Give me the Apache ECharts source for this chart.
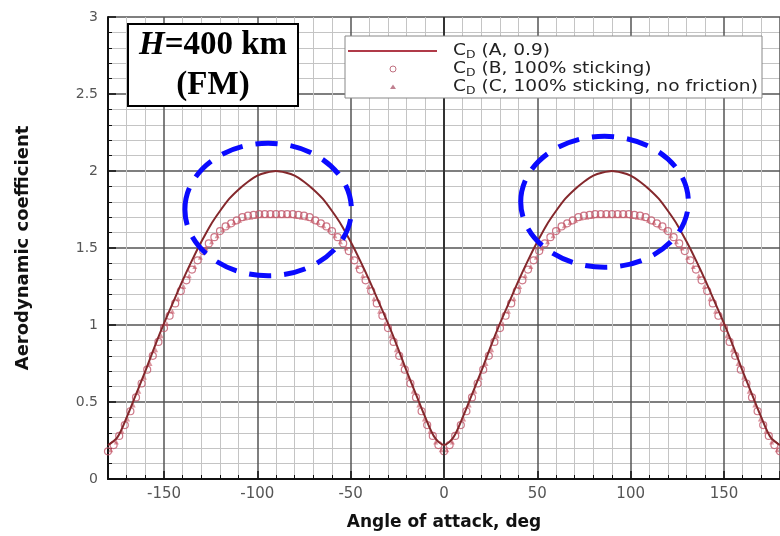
<!DOCTYPE html>
<html><head><meta charset="utf-8">
<script src="https://cdn.jsdelivr.net/npm/echarts@6/dist/echarts.min.js"></script>
<style>html,body{margin:0;padding:0;background:#fff}#c{width:780px;height:536px}</style>
</head><body><div id="c"></div>
<script>
// Curve A (solid line), angle of attack in degrees
const angleA = [-180,-175,-170,-165,-160,-155,-150,-145,-140,-135,-130,-125,-120,-115,-110,-105,-100,-95,-90,-85,-80,-75,-70,-65,-60,-55,-50,-45,-40,-35,-30,-25,-20,-15,-10,-5,0,5,10,15,20,25,30,35,40,45,50,55,60,65,70,75,80,85,90,95,100,105,110,115,120,125,130,135,140,145,150,155,160,165,170,175,180];
const cdA = [0.22,0.27,0.40,0.55,0.70,0.86,1.01,1.15,1.29,1.42,1.54,1.65,1.74,1.82,1.88,1.93,1.97,1.99,2.00,1.99,1.97,1.93,1.88,1.82,1.74,1.65,1.54,1.42,1.29,1.15,1.01,0.86,0.70,0.55,0.40,0.27,0.22,
  0.27,0.40,0.55,0.70,0.86,1.01,1.15,1.29,1.42,1.54,1.65,1.74,1.82,1.88,1.93,1.97,1.99,2.00,1.99,1.97,1.93,1.88,1.82,1.74,1.65,1.54,1.42,1.29,1.15,1.01,0.86,0.70,0.55,0.40,0.27,0.22];

// Markers B (circles)
const angleB = [-180,-177,-174,-171,-168,-165,-162,-159,-156,-153,-150,-147,-144,-141,-138,-135,-132,-129,-126,-123,-120,-117,-114,-111,-108,-105,-102,-99,-96,-93,-90,-87,-84,-81,-78,-75,-72,-69,-66,-63,-60,-57,-54,-51,-48,-45,-42,-39,-36,-33,-30,-27,-24,-21,-18,-15,-12,-9,-6,-3,0,3,6,9,12,15,18,21,24,27,30,33,36,39,42,45,48,51,54,57,60,63,66,69,72,75,78,81,84,87,90,93,96,99,102,105,108,111,114,117,120,123,126,129,132,135,138,141,144,147,150,153,156,159,162,165,168,171,174,177,180];
const cdB = [0.18,0.22,0.28,0.35,0.44,0.53,0.62,0.71,0.80,0.89,0.98,1.06,1.14,1.22,1.29,1.36,1.42,1.48,1.53,1.57,1.61,1.64,1.66,1.68,1.70,1.71,1.715,1.72,1.72,1.72,1.72,
  1.72,1.72,1.72,1.715,1.71,1.70,1.68,1.66,1.64,1.61,1.57,1.53,1.48,1.42,1.36,1.29,1.22,1.14,1.06,0.98,0.89,0.80,0.71,0.62,0.53,0.44,0.35,0.28,0.22,0.18,
  0.22,0.28,0.35,0.44,0.53,0.62,0.71,0.80,0.89,0.98,1.06,1.14,1.22,1.29,1.36,1.42,1.48,1.53,1.57,1.61,1.64,1.66,1.68,1.70,1.71,1.715,1.72,1.72,1.72,1.72,
  1.72,1.72,1.72,1.715,1.71,1.70,1.68,1.66,1.64,1.61,1.57,1.53,1.48,1.42,1.36,1.29,1.22,1.14,1.06,0.98,0.89,0.80,0.71,0.62,0.53,0.44,0.35,0.28,0.22,0.18];

// Markers C (triangles)
const angleC = [-178.5,-175.5,-172.5,-169.5,-166.5,-163.5,-160.5,-157.5,-154.5,-151.5,-148.5,-145.5,-142.5,-139.5,-136.5,-133.5,-130.5,-127.5,-124.5,-121.5,-118.5,-115.5,-112.5,-109.5,-106.5,-103.5,-100.5,-97.5,-94.5,-91.5,
  -88.5,-85.5,-82.5,-79.5,-76.5,-73.5,-70.5,-67.5,-64.5,-61.5,-58.5,-55.5,-52.5,-49.5,-46.5,-43.5,-40.5,-37.5,-34.5,-31.5,-28.5,-25.5,-22.5,-19.5,-16.5,-13.5,-10.5,-7.5,-4.5,-1.5,
  1.5,4.5,7.5,10.5,13.5,16.5,19.5,22.5,25.5,28.5,31.5,34.5,37.5,40.5,43.5,46.5,49.5,52.5,55.5,58.5,61.5,64.5,67.5,70.5,73.5,76.5,79.5,82.5,85.5,88.5,
  91.5,94.5,97.5,100.5,103.5,106.5,109.5,112.5,115.5,118.5,121.5,124.5,127.5,130.5,133.5,136.5,139.5,142.5,145.5,148.5,151.5,154.5,157.5,160.5,163.5,166.5,169.5,172.5,175.5,178.5];
const cdC = [0.19,0.24,0.31,0.39,0.48,0.57,0.66,0.75,0.84,0.93,1.01,1.09,1.17,1.25,1.32,1.38,1.44,1.50,1.54,1.58,1.62,1.645,1.665,1.68,1.695,1.70,1.705,1.71,1.71,1.71,
  1.71,1.71,1.71,1.705,1.70,1.695,1.68,1.665,1.645,1.62,1.58,1.54,1.50,1.44,1.38,1.32,1.25,1.17,1.09,1.01,0.93,0.84,0.75,0.66,0.57,0.48,0.39,0.31,0.24,0.19,
  0.19,0.24,0.31,0.39,0.48,0.57,0.66,0.75,0.84,0.93,1.01,1.09,1.17,1.25,1.32,1.38,1.44,1.50,1.54,1.58,1.62,1.645,1.665,1.68,1.695,1.70,1.705,1.71,1.71,1.71,
  1.71,1.71,1.71,1.705,1.70,1.695,1.68,1.665,1.645,1.62,1.58,1.54,1.50,1.44,1.38,1.32,1.25,1.17,1.09,1.01,0.93,0.84,0.75,0.66,0.57,0.48,0.39,0.31,0.24,0.19];

const legendNames = [' (A, 0.9)', ' (B, 100% sticking)', ' (C, 100% sticking, no friction)'];
const xTitle = 'Angle of attack, deg';
const yTitle = 'Aerodynamic coefficient';

const chart = echarts.init(document.getElementById('c'));
const zip = (xs, ys) => xs.map((x, i) => [x, ys[i]]);

chart.setOption({
  animation: false,
  grid: { left: 108, right: -2, top: 17, bottom: 56 },
  xAxis: {
    type: 'value', min: -180, max: 180, splitNumber: 7,
    name: xTitle, nameLocation: 'middle', nameGap: 35,
    nameTextStyle: { fontFamily: 'DejaVu Sans', fontWeight: 'bold', fontSize: 17, color: '#111' },
    axisLine: { onZero: false, lineStyle: { color: '#111', width: 2 } },
    axisTick: { inside: true, length: 8, lineStyle: { color: '#111', width: 1.5 } },
    minorTick: { show: true, splitNumber: 5, length: 4, lineStyle: { color: '#111' } },
    axisLabel: { showMinLabel: false, showMaxLabel: false, fontFamily: 'DejaVu Sans', fontSize: 15, color: '#555', margin: 8 },
    splitLine: { show: true, lineStyle: { color: '#555', width: 1.5 } },
    minorSplitLine: { show: true, lineStyle: { color: '#c4c4c4', width: 1 } }
  },
  yAxis: {
    type: 'value', min: 0, max: 3, interval: 0.5,
    name: yTitle, nameLocation: 'middle', nameGap: 76,
    nameTextStyle: { fontFamily: 'DejaVu Sans', fontWeight: 'bold', fontSize: 18, color: '#111' },
    axisLine: { show: true, onZero: false, lineStyle: { color: '#111', width: 2 } },
    axisTick: { show: true, inside: true, length: 8, lineStyle: { color: '#111', width: 1.5 } },
    minorTick: { show: true, splitNumber: 5, length: 4, lineStyle: { color: '#111' } },
    axisLabel: { fontFamily: 'DejaVu Sans', fontSize: 14, color: '#555', margin: 10 },
    splitLine: { show: true, lineStyle: { color: '#555', width: 1.5 } },
    minorSplitLine: { show: true, lineStyle: { color: '#c4c4c4', width: 1 } }
  },
  series: [
    {
      name: 'B', type: 'scatter', data: zip(angleB, cdB), symbol: 'circle', symbolSize: 7, z: 3,
      itemStyle: { color: 'rgba(255,255,255,0)', borderColor: '#c0566a', borderWidth: 1.2 }
    },
    {
      name: 'C', type: 'scatter', data: zip(angleC, cdC), symbol: 'triangle', symbolSize: 5, z: 4,
      itemStyle: { color: 'rgba(200,90,105,0.8)' }
    },
    {
      name: 'A', type: 'line', data: zip(angleA, cdA), smooth: 0.3, showSymbol: false, symbol: 'none', z: 5,
      lineStyle: { color: '#84282c', width: 2 },
      markLine: { silent: true, symbol: 'none', label: { show: false }, lineStyle: { color: '#333', width: 2, type: 'solid' }, data: [{ xAxis: 0 }] }
    }
  ]
});

const p = (x, y) => chart.convertToPixel({ gridIndex: 0 }, [x, y]);
function ellipse(cxD, cyD, rxD, ryD) {
  const c = p(cxD, cyD);
  const rx = p(cxD + rxD, cyD)[0] - c[0];
  const ry = c[1] - p(cxD, cyD + ryD)[1];
  return { type: 'ellipse', z: 100, shape: { cx: c[0], cy: c[1], rx: rx, ry: ry },
    style: { fill: 'none', stroke: '#0a0aff', lineWidth: 5, lineDash: [22, 13] } };
}
const legRich = {
  c: { fontFamily: 'DejaVu Sans', fontSize: 15, color: '#222' },
  s: { fontFamily: 'DejaVu Sans', fontSize: 10, color: '#222', padding: [9, 0, 0, 0] },
  t: { fontFamily: 'DejaVu Sans', fontSize: 15, color: '#222' }
};
const legRows = [51, 69, 87];
chart.setOption({
  graphic: [
    ellipse(-94.2, 1.75, 44.6, 0.43),
    ellipse(86, 1.80, 44.9, 0.425),
    { type: 'rect', z: 100, shape: { x: 128, y: 24, width: 170, height: 82 }, style: { fill: '#fff', stroke: '#000', lineWidth: 2 } },
    { type: 'text', z: 101, x: 213, y: 65, style: {
      text: '{i|H}{b|=400 km}\n{b|(FM)}', align: 'center', verticalAlign: 'middle', fill: '#000',
      fontFamily: 'Liberation Serif', fontWeight: 'bold', fontSize: 33,
      rich: {
        i: { fontFamily: 'Liberation Serif', fontStyle: 'italic', fontWeight: 'bold', fontSize: 33, lineHeight: 40, color: '#000' },
        b: { fontFamily: 'Liberation Serif', fontWeight: 'bold', fontSize: 33, lineHeight: 40, color: '#000' }
      } } },
    { type: 'rect', z: 100, shape: { x: 345, y: 36, width: 417, height: 62 }, style: { fill: '#fff', stroke: '#888', lineWidth: 1 } },
    { type: 'line', z: 101, shape: { x1: 348, y1: 51, x2: 437, y2: 51 }, style: { stroke: '#b03a48', lineWidth: 2 } },
    { type: 'circle', z: 101, shape: { cx: 393, cy: 69, r: 3 }, style: { fill: 'none', stroke: '#c07080', lineWidth: 1 } },
    { type: 'polygon', z: 101, shape: { points: [[393, 84.5], [396, 89], [390, 89]] }, style: { fill: '#c08090' } },
    { type: 'group', z: 101, x: 453, y: 0, scaleX: 1.24, children: legendNames.map((n, i) => ({
      type: 'text', z: 101, x: 0, y: legRows[i], style: {
        text: '{c|C}{s|D}{t|' + n + '}', verticalAlign: 'middle', align: 'left',
        fontFamily: 'DejaVu Sans', fontSize: 15, fill: '#222', rich: legRich } })) }
  ]
});
</script>
</body></html>
